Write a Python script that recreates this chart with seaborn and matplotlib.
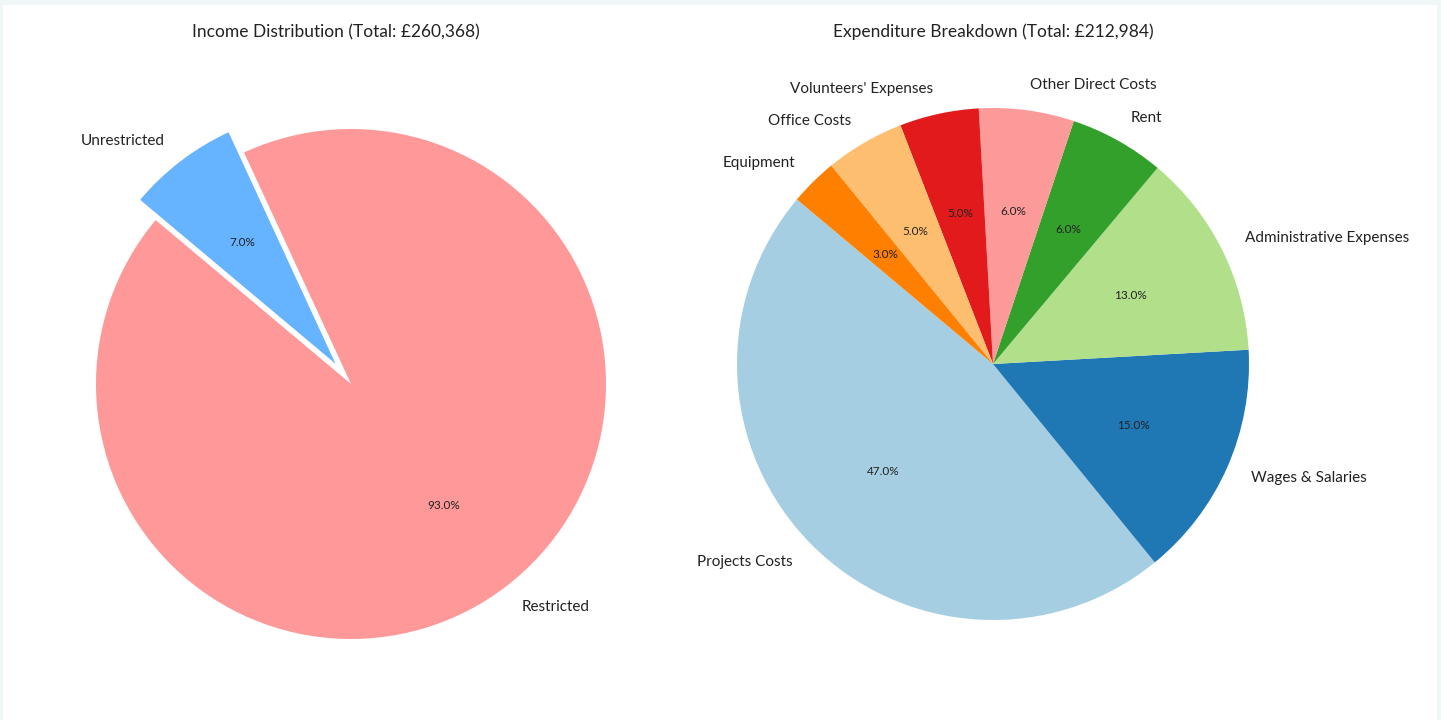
import matplotlib
matplotlib.use("Agg")
import matplotlib.pyplot as plt
import seaborn as sns
from matplotlib.patches import Rectangle

sns.set_theme(style="white")
plt.rcParams['font.family'] = ['Lato', 'DejaVu Sans']

# Data
income_labels = ['Restricted', 'Unrestricted']
income_values = [93, 7]
income_total = '£260,368'
income_colors = ['#ff9999', '#66b3ff']

exp_labels = ['Projects Costs', 'Wages & Salaries', 'Administrative Expenses', 'Rent',
              'Other Direct Costs', "Volunteers' Expenses", 'Office Costs', 'Equipment']
exp_values = [47, 15, 13, 6, 6, 5, 5, 3]
exp_total = '£212,984'
exp_colors = sns.color_palette('Paired', len(exp_values))

W, H = 1441, 720
fig = plt.figure(figsize=(W / 100, H / 100), dpi=100)
fig.patch.set_facecolor('#eff8f7')
fig.patches.append(Rectangle((3 / W, 0), (1437 - 3) / W, (H - 5) / H,
                             transform=fig.transFigure, facecolor='white',
                             edgecolor='none', zorder=-5))

LABEL_FS = 11
PCT_FS = 8.5
TITLE_FS = 12.5


def make_axes(cx, cy, r):
    size = 2.5 * r
    left = cx - size / 2
    bottom = (H - cy) - size / 2
    a = fig.add_axes([left / W, bottom / H, size / W, size / H])
    a.patch.set_alpha(0)
    return a


def shrink_pcts(ax):
    for t in ax.texts:
        if t.get_text().endswith('%'):
            t.set_fontsize(PCT_FS)


# Left pie
ax1 = make_axes(351, 384, 255)
ax1.pie(income_values, labels=income_labels, colors=income_colors,
        autopct='%1.1f%%', startangle=140, explode=(0, 0.1),
        wedgeprops={'linewidth': 0},
        textprops={'fontsize': LABEL_FS, 'color': '#222222'})
shrink_pcts(ax1)
ax1.set_xlim(-1.25, 1.25)
ax1.set_ylim(-1.25, 1.25)
ax1.set_aspect('equal')
ax1.set_title(f'Income Distribution (Total: {income_total})', fontsize=TITLE_FS,
              x=(336 - (351 - 2.5 * 255 / 2)) / (2.5 * 255),
              y=(H - 37 - ((H - 384) - 2.5 * 255 / 2)) / (2.5 * 255), pad=0,
              color='#222222')

# Right pie
ax2 = make_axes(993, 364, 256)
ax2.pie(exp_values, labels=exp_labels, colors=exp_colors,
        autopct='%1.1f%%', startangle=140,
        wedgeprops={'linewidth': 0},
        textprops={'fontsize': LABEL_FS, 'color': '#222222'})
shrink_pcts(ax2)
ax2.set_xlim(-1.25, 1.25)
ax2.set_ylim(-1.25, 1.25)
ax2.set_aspect('equal')
ax2.set_title(f'Expenditure Breakdown (Total: {exp_total})', fontsize=TITLE_FS,
              y=(H - 37 - ((H - 364) - 2.5 * 256 / 2)) / (2.5 * 256), pad=0,
              color='#222222')

fig.savefig('out.png', dpi=100, facecolor=fig.get_facecolor())
